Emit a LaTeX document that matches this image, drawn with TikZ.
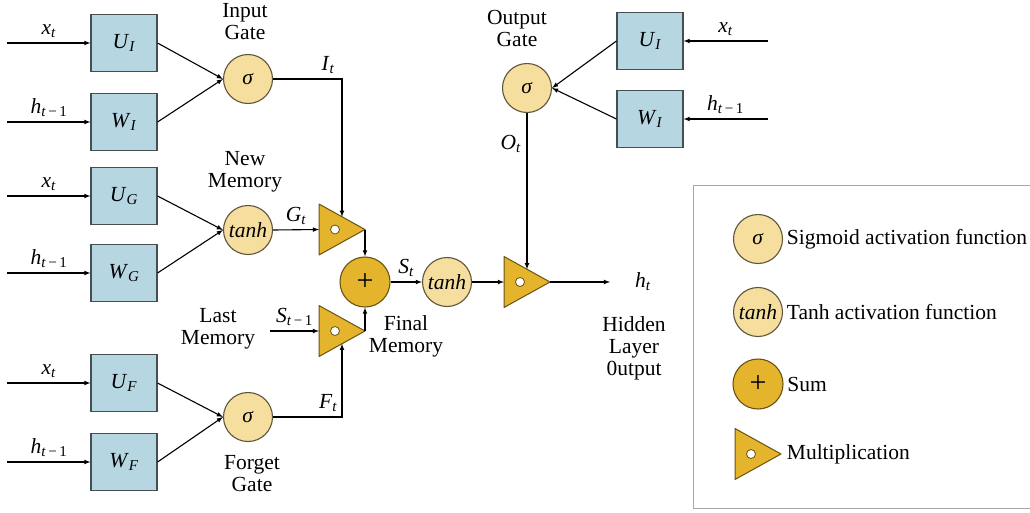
\documentclass[tikz,border=0pt]{standalone}
\usepackage{fontspec}
\setmainfont{Liberation Serif}
\usepackage{tikz}
\usetikzlibrary{arrows,positioning,calc}

\definecolor{boxblue}{RGB}{182,214,226}
\definecolor{boxline}{RGB}{70,78,82}
\definecolor{actfill}{RGB}{245,222,158}
\definecolor{actline}{RGB}{95,85,60}
\definecolor{gold}{RGB}{228,180,44}
\definecolor{goldline}{RGB}{105,82,20}

\newcommand{\sym}[2]{\textit{#1}\textsubscript{\textit{#2}}}
\newcommand{\symm}[2]{\textit{#1}\textsubscript{\textit{#2}\,−\,1}}
\newcommand{\plussign}{{\fontsize{30}{30}\selectfont +}}
% multiplication triangle: name, apex point
\newcommand{\multtri}[2]{%
  \path #2 coordinate (#1-apex) ++(-46,-25.5) coordinate (#1-top) ++(0,51) coordinate (#1-bot);
  \filldraw[goldline,fill=gold,line width=1pt,line join=round] (#1-apex) -- (#1-top) -- (#1-bot) -- cycle;
  \coordinate (#1-in) at ($(#1-top)!0.5!(#1-bot)$);
  \coordinate (#1-up) at ($(#1-top)!0.5!(#1-apex)$);
  \coordinate (#1-dn) at ($(#1-bot)!0.5!(#1-apex)$);
  \draw[goldline,fill=white,line width=0.8pt] ($(#1-in)+(16,0)$) circle (4.5);
}

\begin{document}
\begin{tikzpicture}[x=1pt,y=-1pt,
  font=\fontsize{21.5}{22}\selectfont,
  line width=1.1pt, >=latex,
  wbox/.style={
    draw=boxline,
    fill=boxblue,
    minimum width=66,
    minimum height=57,
    inner sep=0pt
  },
  act/.style={
    circle,
    draw=actline,
    fill=actfill,
    minimum size=49,
    inner sep=0pt
  },
  sumc/.style={
    circle,
    draw=goldline,
    fill=gold,
    minimum size=50,
    inner sep=0pt
  },
  txt/.style={align=center}]
  \useasboundingbox (0,0) rectangle (1030,512);

  % weight blocks
  \node[wbox] (ui) at (124,43)  {\sym{U}{I}};
  \node[wbox] (wi) at (124,122) {\sym{W}{I}};
  \node[wbox] (ug) at (124,196) {\sym{U}{G}};
  \node[wbox] (wg) at (124,273) {\sym{W}{G}};
  \node[wbox] (uf) at (124,383) {\sym{U}{F}};
  \node[wbox] (wf) at (124,462) {\sym{W}{F}};
  \node[wbox] (uo) at (650,41)  {\sym{U}{I}};
  \node[wbox] (wo) at (650,119) {\sym{W}{I}};

  \foreach \b/\lab in {ui/{\sym{x}{t}},wi/{\symm{h}{t}},ug/{\sym{x}{t}},wg/{\symm{h}{t}},uf/{\sym{x}{t}},wf/{\symm{h}{t}}}{
    \path (\b.west) ++(-83,0) coordinate (\b-in);
    \draw[->] (\b-in) -- node[above=1pt] {\lab} (\b.west);
  }
  \foreach \b/\lab in {uo/{\sym{x}{t}},wo/{\symm{h}{t}}}{
    \path (\b.east) ++(84,0) coordinate (\b-in);
    \draw[->] (\b-in) -- node[above=1pt] {\lab} (\b.east);
  }

  % gates
  \node[act] (ig) at (248,79)    {\textit{σ}};
  \node[act] (ng) at (248,230)   {\textit{tanh}};
  \node[act] (fg) at (248,417)   {\textit{σ}};
  \node[act] (og) at (527,88)    {\textit{σ}};
  \node[sumc] (sum) at (365,282) {\plussign};
  \node[act] (st) at (447,282)   {\textit{tanh}};
  \multtri{m1}{(365,229.5)}
  \multtri{m2}{(365,331)}
  \multtri{m3}{(550,282)}

  \node[txt] (iglab) at (245,22)  {Input\\Gate};
  \node[txt] (nglab) at (245,172) {New\\Memory};
  \node[txt] (fglab) at (252,474) {Forget\\Gate};
  \node[txt] (oglab) at (517,28)  {Output\\Gate};
  \node[txt] (lmlab) at (218,329) {Last\\Memory};
  \node[txt] (fmlab) at (406,336) {Final\\Memory};
  \node[txt] (hlab)  at (634,348) {Hidden\\Layer\\0utput};

  \draw[->] (ui.east) -- (ig.west);
  \draw[->] (wi.east) -- (ig.west);
  \draw[->] (ug.east) -- (ng.west);
  \draw[->] (wg.east) -- (ng.west);
  \draw[->] (uf.east) -- (fg.west);
  \draw[->] (wf.east) -- (fg.west);
  \draw[->] (uo.west) -- (og.east);
  \draw[->] (wo.west) -- (og.east);

  \draw[->] (ig.east) -| node[pos=0.4,above=1pt] {\sym{I}{t}} (m1-up);
  \draw[->] (fg.east) -| node[pos=0.4,above=1pt] {\sym{F}{t}} (m2-dn);
  \draw[->] (ng.east) -- node[above=1pt] {\sym{G}{t}} (m1-in);
  \coordinate (sin) at (270,331);
  \draw[->] (sin) -- node[above=1pt] {\symm{S}{t}} (m2-in);
  \draw[->] (m1-apex) -- (sum.north);
  \draw[->] (m2-apex) -- (sum.south);
  \draw[->] (sum.east) -- node[above=1pt] {\sym{S}{t}} (st.west);
  \draw[->] (st.east) -- (m3-in);
  \draw[->] (og.south) -- node[pos=0.2,left=2pt] {\sym{O}{t}} (m3-up);
  \coordinate (hout) at (610,282);
  \draw[->] (m3-apex) -- (hout);
  \node (ht) at (643,282) {\sym{h}{t}};

  % legend
  \draw[gray!70,line width=1pt] (1032,185) -- (693,185) -- (693,508) -- (1032,508);
  \node[act] (lsig) at (758,239)  {\textit{σ}};
  \node[act] (ltanh) at (758,312) {\textit{tanh}};
  \node[sumc] (lsum) at (758,384) {\plussign};
  \multtri{lmult}{(781,454)}
  \node[right=0pt of lsig]  (tsig)  {Sigmoid activation function};
  \node[right=0pt of ltanh] (ttanh) {Tanh activation function};
  \node[right=0pt of lsum]  (tsum)  {Sum};
  \node[anchor=west] (tmult) at ($(lmult-apex)+(2,0)$) {Multiplication};
\end{tikzpicture}
\end{document}
